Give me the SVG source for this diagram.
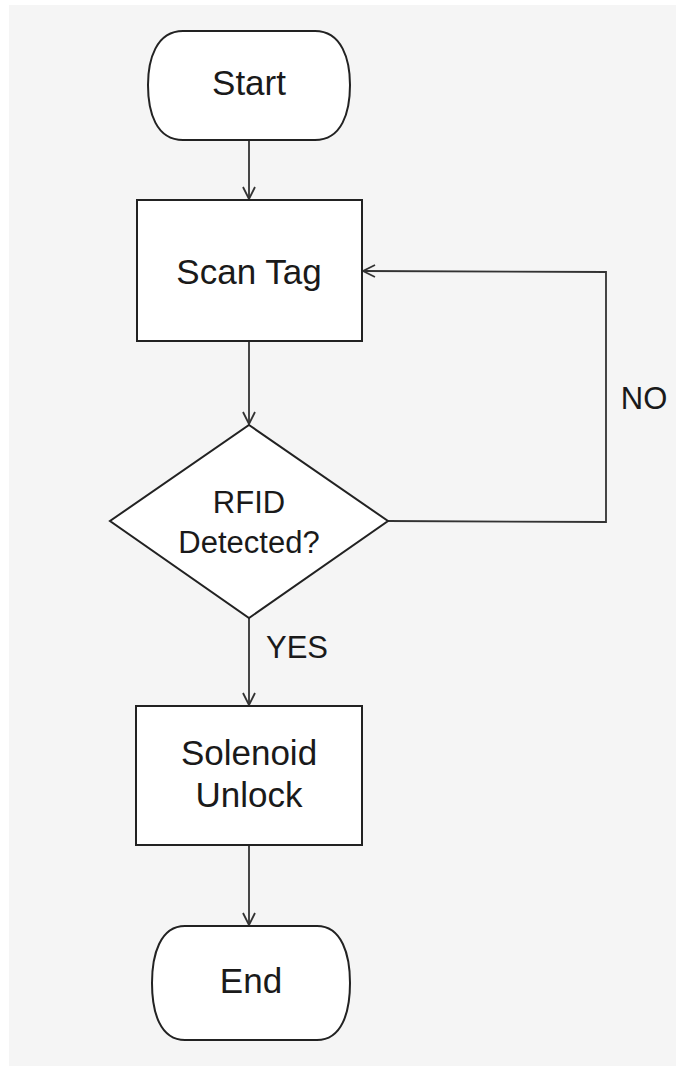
<svg xmlns="http://www.w3.org/2000/svg" width="676" height="1066" viewBox="0 0 676 1066">
<style>
.shape{fill:#ffffff;stroke:#222222;stroke-width:2}
.conn{fill:none;stroke:#333333;stroke-width:1.8}
.big{font-family:"Liberation Sans",Arial,sans-serif;font-size:35px;fill:#1a1a1a;text-anchor:middle}
.mid{font-family:"Liberation Sans",Arial,sans-serif;font-size:31px;fill:#1a1a1a;text-anchor:middle}
</style>
<defs>
<marker id="arr" viewBox="0 0 14 14" refX="13" refY="7" markerWidth="14" markerHeight="14" markerUnits="userSpaceOnUse" orient="auto">
<path d="M1,1 L13,7 L1,13" fill="none" stroke="#333333" stroke-width="1.8"/>
</marker>
</defs>
<rect x="0" y="0" width="676" height="1066" fill="#ffffff"/>
<rect x="9" y="5" width="667" height="1061" fill="#f5f5f5"/>
<g id="connectors">
<line class="conn" x1="249" y1="140" x2="249" y2="199" marker-end="url(#arr)"/>
<line class="conn" x1="249" y1="341" x2="249" y2="424" marker-end="url(#arr)"/>
<polyline class="conn" points="388,521 606,522 606,272 363,271" marker-end="url(#arr)"/>
<line class="conn" x1="249" y1="618" x2="249" y2="705" marker-end="url(#arr)"/>
<line class="conn" x1="249" y1="845" x2="249" y2="925" marker-end="url(#arr)"/>
<text class="mid" x="644" y="409">NO</text>
<text class="mid" x="297" y="658">YES</text>
</g>
<g id="start">
<path class="shape" d="M183,31 L315,31 C342,31 350,60 350,85 C350,112 342,140 315,140 L183,140 C156,140 148,112 148,85 C148,60 156,31 183,31 Z"/>
<text class="big" x="249" y="95">Start</text>
</g>
<g id="scan">
<rect class="shape" x="137" y="200" width="225" height="141"/>
<text class="big" x="249" y="284">Scan Tag</text>
</g>
<g id="decision">
<polygon class="shape" points="249,425 388,521 249,618 110,521"/>
<text class="mid" x="249" y="513">RFID</text>
<text class="mid" x="249" y="553">Detected?</text>
</g>
<g id="unlock">
<rect class="shape" x="136" y="706" width="226" height="139"/>
<text class="big" x="249" y="765">Solenoid</text>
<text class="big" x="249" y="807">Unlock</text>
</g>
<g id="end">
<path class="shape" d="M185,926 L317,926 C342,926 350,955 350,983 C350,1012 342,1040 317,1040 L185,1040 C160,1040 152,1012 152,983 C152,955 160,926 185,926 Z"/>
<text class="big" x="251" y="993">End</text>
</g>
</svg>
